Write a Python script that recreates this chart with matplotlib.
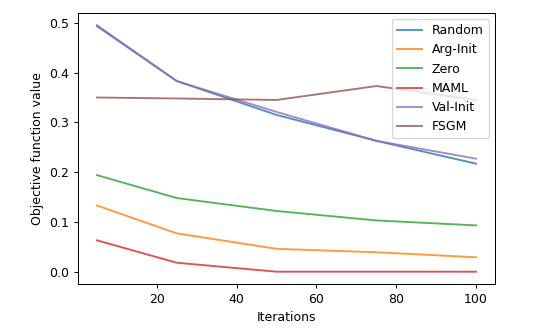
import matplotlib
matplotlib.use('Agg')
import matplotlib.pyplot as plt

iterations = [5, 25, 50, 75, 100]
random_init = [0.495, 0.383, 0.315, 0.263, 0.217]
arg_init = [0.133, 0.077, 0.046, 0.039, 0.029]
zero_init = [0.194, 0.148, 0.122, 0.103, 0.093]
maml = [0.063, 0.018, 0.0, 0.0, 0.0]
val_init = [0.493, 0.383, 0.321, 0.263, 0.227]
fsgm = [0.350, 0.348, 0.345, 0.373, 0.345]

# rendered at 90 dpi so text and lines come out a bit larger, like the original
fig = plt.figure(figsize=(548 / 90, 335 / 90), dpi=90)
ax = fig.add_axes([0.1423, 0.1522, 0.761, 0.809])

# original lines look a bit washed out
a = 0.8
ax.plot(iterations, random_init, label='Random', alpha=a)
ax.plot(iterations, arg_init, label='Arg-Init', alpha=a)
ax.plot(iterations, zero_init, label='Zero', alpha=a)
ax.plot(iterations, maml, label='MAML', alpha=a)
ax.plot(iterations, val_init, label='Val-Init', alpha=a)
ax.plot(iterations, fsgm, label='FSGM', alpha=a)

ax.set_xlabel('Iterations')
ax.set_ylabel('Objective function value')
ax.legend(loc='upper right')

fig.savefig('out.png', dpi=90)
